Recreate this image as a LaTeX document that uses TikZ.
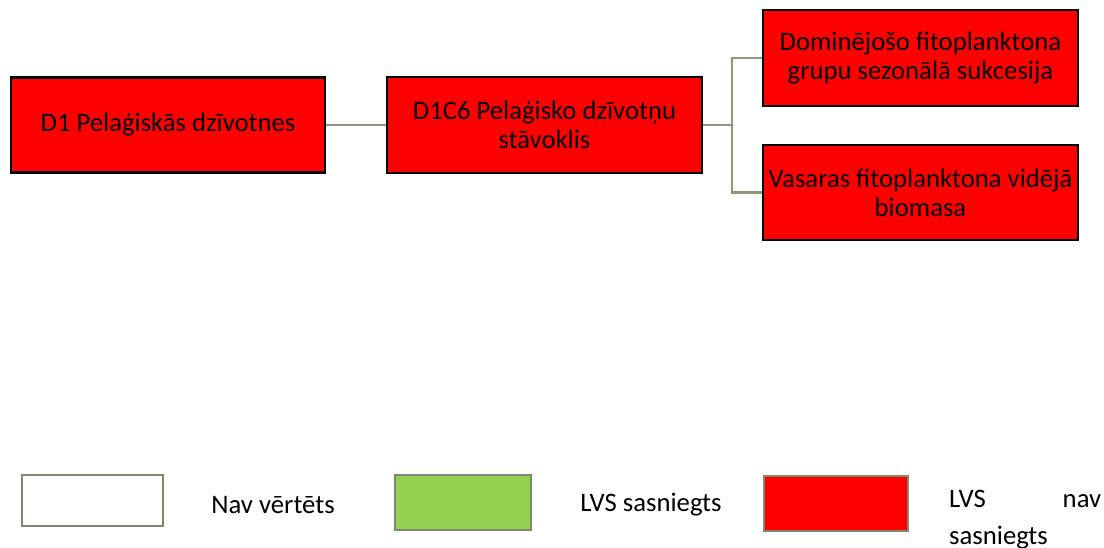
\documentclass[tikz,border=0pt]{standalone}
\usepackage{fontspec}
\setmainfont{Carlito}
\definecolor{conn}{RGB}{138,154,120}
\definecolor{legb}{RGB}{126,136,108}
\definecolor{lgreen}{RGB}{146,208,80}
\begin{document}
\begin{tikzpicture}[x=1pt,y=-1pt,
  box/.style={draw=black,line width=2.5pt,fill=red,inner sep=0pt,align=center,font=\fontsize{26.7}{29}\selectfont},
  leg/.style={draw=legb,line width=2.5pt,inner sep=0pt},
  ltext/.style={font=\fontsize{26.7}{37}\selectfont,inner sep=0pt},
  link/.style={draw=conn,line width=2.2pt}]
\useasboundingbox (0,0) rectangle (1104,548);
\node[box,minimum width=314pt,minimum height=95pt] (d1) at (168,125) {D1 Pelaģiskās dzīvotnes};
\node[box,minimum width=315pt,minimum height=96pt] (c6) at (544.5,125) {D1C6 Pelaģisko dzīvotņu\\stāvoklis};
\node[box,minimum width=315pt,minimum height=96pt] (a) at (920.5,58) {Dominējošo fitoplanktona\\grupu sezonālā sukcesija};
\node[box,minimum width=315pt,minimum height=95pt] (b) at (920.5,192.5) {Vasaras fitoplanktona vidējā\\biomasa};
\coordinate (j) at (732,125);
\draw[link] (d1.east) -- (c6.west);
\draw[link] (c6.east) -- (j);
\draw[link] (j) |- (a.west);
\draw[link] (j) |- (b.west);
% legend
\node[leg,fill=white,minimum width=141pt,minimum height=51pt] (l1) at (92.5,500.5) {};
\node[ltext] (t1) at (273,505) {Nav vērtēts};
\node[leg,fill=lgreen,minimum width=136pt,minimum height=55pt] (l2) at (463,502.5) {};
\node[ltext] (t2) at (651,505) {LVS sasniegts};
\node[leg,fill=red,minimum width=144pt,minimum height=55pt] (l3) at (836,503.5) {};
\node[ltext,anchor=north west,text width=152pt,align=left] (t3) at (949,490) {LVS\hfill nav\\sasniegts};
\end{tikzpicture}
\end{document}
